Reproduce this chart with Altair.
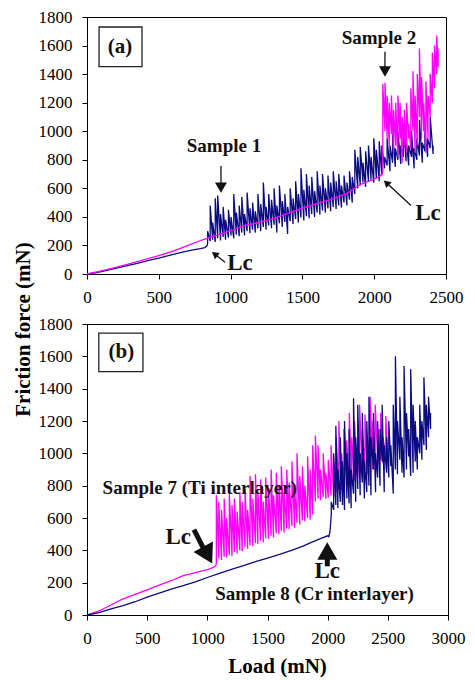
import altair as alt
import pandas as pd

FONT = "Liberation Serif"
NAVY = "#0b0b80"
MAGENTA = "#ff00ff"
INK = "#111111"

# ---------------- Panel (a) ----------------
a_x_ticks = [0, 500, 1000, 1500, 2000, 2500]
y_ticks = [0, 200, 400, 600, 800, 1000, 1200, 1400, 1600, 1800]

# Sample 1 (navy) - smooth part before Lc
s1_load = [0, 60, 130, 200, 280, 350, 430, 500, 580, 650, 720, 790, 820, 835]
s1_force = [0, 8, 24, 40, 58, 75, 95, 112, 132, 150, 165, 178, 185, 195]
# Sample 1 - fluctuating part (spike base / spike top)
s1_spk_load = [840, 858, 875, 893, 910, 930, 948, 965, 985, 1003,
               1022, 1040, 1060, 1078, 1097, 1115, 1135, 1153, 1172, 1190,
               1210, 1228, 1247, 1265, 1285, 1303, 1322, 1340, 1360, 1378,
               1397, 1415, 1435, 1453, 1472, 1490, 1510, 1528, 1547, 1565,
               1585, 1603, 1622, 1640, 1660, 1678, 1697, 1715, 1735, 1753,
               1772, 1790, 1810, 1828, 1847, 1865, 1885, 1903, 1922, 1940,
               1960, 1978, 1997, 2015, 2035, 2053, 2072, 2090, 2110, 2128,
               2147, 2165, 2185, 2203, 2222, 2240, 2260, 2278, 2297, 2315,
               2335, 2353, 2372, 2390, 2410]
s1_spk_low = [215, 230, 240, 225, 250, 235, 260, 240, 255, 270,
              250, 275, 265, 290, 270, 300, 285, 310, 290, 320,
              300, 330, 310, 340, 320, 345, 290, 355, 330, 365,
              280, 370, 350, 385, 360, 395, 375, 405, 390, 420,
              400, 430, 415, 445, 430, 460, 440, 470, 455, 480,
              465, 500, 480, 520, 500, 560, 600, 620, 640, 610,
              650, 660, 640, 670, 650, 690, 740, 760, 720, 780,
              750, 800, 770, 820, 790, 760, 820, 740, 800, 830,
              780, 860, 820, 880, 840]
s1_spk_high = [300, 480, 360, 530, 550, 420, 470, 380, 450, 400,
               560, 430, 480, 540, 420, 570, 460, 500, 440, 560,
               490, 640, 470, 560, 520, 600, 480, 620, 510, 560,
               470, 600, 530, 650, 560, 740, 590, 700, 620, 680,
               580, 720, 620, 700, 600, 690, 640, 720, 650, 700,
               620, 690, 640, 720, 680, 870, 820, 890, 780, 860,
               900, 820, 950, 870, 930, 900, 820, 950, 900, 980,
               880, 1000, 900, 1050, 960, 900, 1000, 880, 950, 1080,
               920, 1000, 950, 1100, 900]

# Sample 2 (magenta)
s2_load = [0, 100, 200, 300, 400, 500, 600, 700, 800, 850, 900, 1000, 1100, 1200,
           1300, 1400, 1500, 1600, 1700, 1800, 1850, 1900, 1950, 2000, 2040, 2055]
s2_force = [0, 22, 46, 72, 100, 128, 160, 198, 238, 255, 270, 303, 340, 362,
            388, 425, 462, 492, 523, 560, 590, 625, 645, 665, 685, 700]
s2_spk_load = [2060, 2075, 2090, 2105, 2120, 2135, 2150, 2165, 2180, 2195,
               2210, 2225, 2240, 2255, 2270, 2285, 2300, 2315, 2330, 2345,
               2360, 2375, 2390, 2405, 2420, 2435, 2445]
s2_spk_low = [720, 1000, 950, 900, 980, 850, 900, 820, 950, 780,
              900, 850, 950, 880, 1000, 850, 900, 1100, 950, 1000,
              850, 950, 1100, 1200, 1300, 1400, 1450]
s2_spk_high = [1330, 1340, 1250, 1200, 1250, 1150, 1200, 1250, 1200, 1100,
               1150, 1200, 1050, 1300, 1420, 1250, 1400, 1580, 1380, 1200,
               1350, 1250, 1400, 1550, 1600, 1670, 1580]

# ---------------- Panel (b) ----------------
b_x_ticks = [0, 500, 1000, 1500, 2000, 2500, 3000]

# Sample 7 (Ti interlayer, magenta)
s7_load = [0, 100, 200, 250, 300, 400, 450, 500, 600, 700, 800, 900, 1000, 1050, 1070]
s7_force = [0, 25, 62, 82, 100, 128, 142, 155, 185, 212, 243, 262, 280, 295, 305]
s7_spk_load = [1075, 1095, 1118, 1140, 1160, 1183, 1205, 1225, 1248, 1270,
               1290, 1313, 1335, 1355, 1378, 1400, 1420, 1443, 1465, 1485,
               1508, 1530, 1550, 1573, 1595, 1615, 1638, 1660, 1680, 1703,
               1725, 1745, 1768, 1790, 1810, 1833, 1855, 1875, 1898, 1920,
               1940, 1963, 1985, 2005, 2028, 2050, 2070, 2093, 2115, 2135,
               2158, 2180, 2200, 2223, 2245, 2265, 2288, 2310, 2330, 2353,
               2375, 2395, 2418, 2440, 2460, 2483, 2500]
s7_spk_low = [320, 350, 340, 360, 355, 370, 365, 390, 380, 400,
              395, 420, 410, 430, 425, 445, 440, 460, 450, 475,
              470, 490, 480, 505, 500, 520, 510, 535, 530, 550,
              540, 570, 560, 585, 580, 600, 590, 620, 700, 720,
              710, 730, 720, 725, 740, 730, 760, 780, 770, 800,
              820, 790, 850, 830, 870, 850, 880, 900, 870, 920,
              900, 950, 930, 960, 940, 980, 960]
s7_spk_high = [740, 700, 650, 720, 600, 750, 680, 720, 640, 760,
               700, 780, 650, 860, 720, 870, 760, 840, 700, 850,
               780, 900, 740, 880, 800, 920, 760, 900, 820, 950,
               780, 1000, 860, 920, 800, 980, 900, 1050, 1110, 1050,
               900, 1000, 880, 960, 1050, 950, 1100, 1200, 1000, 1150,
               1080, 1250, 1100, 1200, 1050, 1300, 1150, 1240, 1100, 1350,
               1200, 1300, 1150, 1250, 1100, 1230, 1000]

# Sample 8 (Cr interlayer, navy)
s8_load = [0, 100, 200, 300, 400, 500, 600, 700, 800, 900, 1000, 1100, 1200, 1300,
           1400, 1500, 1600, 1700, 1800, 1850, 1900, 1950, 2000, 2010, 2020]
s8_force = [0, 15, 38, 58, 82, 110, 135, 160, 182, 205, 232, 258, 282, 305,
            330, 352, 375, 400, 428, 445, 460, 475, 490, 485, 520]
s8_spk_load = [2030, 2050, 2068, 2085, 2105, 2123, 2140, 2160, 2178, 2195,
               2215, 2233, 2250, 2270, 2288, 2305, 2325, 2343, 2360, 2380,
               2398, 2415, 2435, 2453, 2470, 2490, 2508, 2525, 2545, 2563,
               2580, 2600, 2618, 2635, 2655, 2673, 2690, 2710, 2728, 2745,
               2765, 2783, 2800, 2820, 2838, 2855]
s8_spk_low = [620, 650, 680, 660, 700, 680, 650, 720, 690, 660,
              750, 700, 780, 740, 820, 720, 760, 800, 740, 900,
              760, 850, 800, 950, 760, 880, 850, 920, 750, 900,
              870, 960, 880, 850, 900, 980, 860, 880, 950, 900,
              1000, 960, 1050, 1020, 1100, 1150]
s8_spk_high = [700, 1000, 1170, 900, 1100, 950, 1200, 1000, 1150, 900,
               1340, 1100, 1300, 1000, 1250, 950, 1200, 1350, 1100, 1250,
               1000, 1200, 1150, 1300, 1050, 1100, 1200, 1050, 1300, 1600,
               1200, 1350, 1100, 1540, 1250, 1150, 1520, 1300, 1200, 1100,
               1300, 1200, 1470, 1300, 1350, 1250]

# ---------------- Annotations (data units) ----------------
a_label_text = ["Sample 1", "Sample 2"]
a_label_load = [954, 2033]
a_label_force = [896, 1650]
a_lc_load = [1065, 2375]
a_lc_force = [76, 424]
a_box = {"load": [84], "load2": [383], "force": [1730], "force2": [1452]}
a_tag = {"load": [230], "force": [1591], "t": ["(a)"]}

b_label_text = ["Sample 7 (Ti interlayer)", "Sample 8 (Cr interlayer)"]
b_label_load = [937, 1891]
b_label_force = [786, 129]
b_lc_load = [758, 1997]
b_lc_force = [485, 270]
b_box = {"load": [98], "load2": [465], "force": [1744], "force2": [1505]}
b_tag = {"load": [285], "force": [1628], "t": ["(b)"]}


def series_df(sl, sf, kl, klo, khi):
    loads, forces = list(sl), list(sf)
    for l, lo, hi in zip(kl, klo, khi):
        loads += [l, l]
        forces += [lo, hi]
    return pd.DataFrame({"load": loads, "force": forces, "i": range(len(loads))})


def make_layers(X, Y):
    def line(df, color):
        return alt.Chart(df).mark_line(color=color, strokeWidth=1.3).encode(
            x=X, y=Y, order="i:Q")

    def texts(loads, forces, labels, size):
        df = pd.DataFrame({"load": loads, "force": forces, "t": labels})
        return alt.Chart(df).mark_text(font=FONT, fontWeight="bold", fontSize=size,
                                       color=INK).encode(x=X, y=Y, text="t:N")

    def rule(l1, f1, l2, f2, width):
        df = pd.DataFrame({"load": [l1], "force": [f1], "load2": [l2], "force2": [f2]})
        return alt.Chart(df).mark_rule(color=INK, strokeWidth=width).encode(
            x=X, y=Y, x2="load2:Q", y2="force2:Q")

    def head(l, f, angle, size):
        df = pd.DataFrame({"load": [l], "force": [f]})
        return alt.Chart(df).mark_point(shape="triangle-up", filled=True, color=INK,
                                        opacity=1, size=size, angle=angle).encode(x=X, y=Y)

    def box(d):
        return alt.Chart(pd.DataFrame(d)).mark_rect(fill="white", stroke="#222",
                                                    strokeWidth=1.3).encode(
            x=X, x2="load2:Q", y=Y, y2="force2:Q")

    def tag(d):
        return alt.Chart(pd.DataFrame(d)).mark_text(font=FONT, fontWeight="bold",
                                                    fontSize=21, color=INK).encode(
            x=X, y=Y, text="t:N")

    return line, texts, rule, head, box, tag


# ---- panel a ----
xa = alt.X("load:Q", scale=alt.Scale(domain=[0, 2500], nice=False),
           axis=alt.Axis(values=a_x_ticks, title=None, labelFlush=False, labelPadding=10,
                         format="d", labelOverlap=False))
ya = alt.Y("force:Q", scale=alt.Scale(domain=[0, 1800], nice=False),
           axis=alt.Axis(values=y_ticks, title=None, labelPadding=10, format="d",
                         labelOverlap=False))
line, texts, rule, head, box, tag = make_layers(xa, ya)

panel_a = alt.layer(
    line(series_df(s1_load, s1_force, s1_spk_load, s1_spk_low, s1_spk_high), NAVY),
    line(series_df(s2_load, s2_force, s2_spk_load, s2_spk_low, s2_spk_high), MAGENTA),
    box(a_box), tag(a_tag),
    texts(a_label_load, a_label_force, a_label_text, 19),
    texts(a_lc_load, a_lc_force, ["Lc", "Lc"], 23),
    rule(933, 757, 933, 620, 1.3), head(933, 605, 180, 144),
    rule(2075, 1557, 2075, 1430, 1.3), head(2075, 1418, 180, 144),
    rule(961, 83, 889, 140, 1.3), head(889, 140, 308, 64),
    rule(2256, 480, 2085, 639, 1.3), head(2085, 639, 313, 64),
).properties(width=359, height=257)

# ---- panel b ----
xb = alt.X("load:Q", scale=alt.Scale(domain=[0, 3000], nice=False),
           axis=alt.Axis(values=b_x_ticks, title="Load (mN)", labelFlush=False,
                         labelPadding=10, format="d", labelOverlap=False,
                         titleX=190, titleY=51, titleBaseline="middle"))
yb = alt.Y("force:Q", scale=alt.Scale(domain=[0, 1800], nice=False),
           axis=alt.Axis(values=y_ticks, title="Friction force (mN)", labelPadding=10,
                         format="d", labelOverlap=False,
                         titleX=-64, titleY=5, titleBaseline="middle",
                         titleAlign="center", titleAngle=270))
line, texts, rule, head, box, tag = make_layers(xb, yb)

panel_b = alt.layer(
    line(series_df(s7_load, s7_force, s7_spk_load, s7_spk_low, s7_spk_high), MAGENTA),
    line(series_df(s8_load, s8_force, s8_spk_load, s8_spk_low, s8_spk_high), NAVY),
    box(b_box), tag(b_tag),
    texts(b_label_load, b_label_force, b_label_text, 19),
    texts(b_lc_load, b_lc_force, ["Lc", "Lc"], 23),
    rule(889, 528, 990, 380, 5), head(1003, 370, 152, 484),
    rule(1997, 301, 1997, 385, 5), head(1997, 396, 0, 400),
).properties(width=361, height=291)

chart = alt.vconcat(
    panel_a, panel_b, spacing=50, bounds="flush",
    padding={"left": 3, "top": -1, "right": 0, "bottom": 0},
).configure_axis(
    labelFont=FONT, labelFontSize=17, labelColor="black", labelOverlap=False,
    titleFont=FONT, titleFontSize=21, titleFontWeight="bold", titleColor="black",
    domainColor="black", tickColor="black", tickSize=5, grid=False,
).configure_view(stroke="black", strokeWidth=1)

chart.save("out.html", embed_options={"renderer": "svg", "actions": False})
